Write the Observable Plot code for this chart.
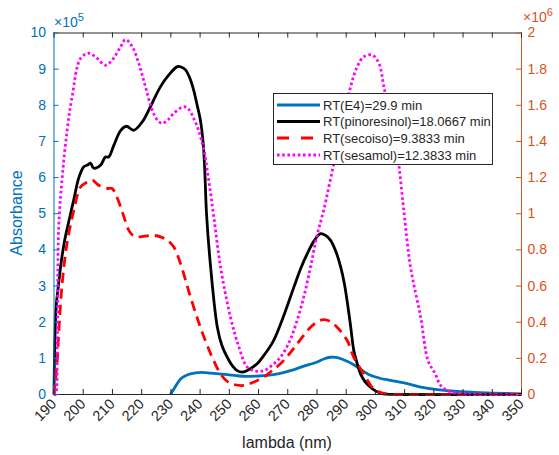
<!DOCTYPE html>
<html>
<head>
<meta charset="utf-8">
<script src="https://cdn.jsdelivr.net/npm/d3@7"></script>
<script src="https://cdn.jsdelivr.net/npm/@observablehq/plot@0.6"></script>
<style>
  html, body { margin: 0; padding: 0; background: #fff; }
  #chart { width: 559px; height: 455px; }
</style>
</head>
<body>
<div id="chart"></div>
<script>
// ---- data (left axis: x10^5, right axis: x10^6) ----
const xTicks = [190,200,210,220,230,240,250,260,270,280,290,300,310,320,330,340,350];
const yTicksLeft = [0,1,2,3,4,5,6,7,8,9,10];
const yTicksRight = [0,0.2,0.4,0.6,0.8,1,1.2,1.4,1.6,1.8,2];

const seriesNames = ["RT(E4)=29.9 min","RT(pinoresinol)=18.0667 min","RT(secoiso)=9.3833 min","RT(sesamol)=12.3833 min"];

// E4 (left axis, x10^5)
const e4Lambda = [229.9,231,232,233.3,235,236.7,238.5,240.5,243.6,246.5,249.3,252.5,256.1,259.5,263,267,270.9,275,280.1,282.5,284.6,287,290.3,292,293.8,296,298.3,301.5,305.2,310.9,316,322,327,333.7,340,350];
const e4Abs    = [0,0.15,0.28,0.43,0.52,0.57,0.6,0.61,0.59,0.57,0.55,0.52,0.5,0.51,0.53,0.58,0.66,0.77,0.9,0.99,1.03,1.02,0.92,0.85,0.76,0.64,0.53,0.45,0.39,0.3,0.2,0.13,0.09,0.06,0.04,0.02];

// pinoresinol (left axis, x10^5)
const pinoLambda = [190,190.3,190.8,191.5,192.2,193.5,195.1,196.8,198.5,200.2,201.5,202.5,203.6,205.9,207.6,208.7,210.5,212.8,214.8,217.3,220.2,223,226.4,229.3,232.2,233.5,235,236.5,237.8,239,240.1,241,241.6,242.2,243.6,245.9,247.5,249.3,251,252.7,254.4,256.5,259.5,262,265.2,268.5,272.1,274.5,276.7,279,281.2,283,284.6,286.5,288.1,289.3,290.3,291.5,292.6,293.8,294.9,296.5,298.3,300,301.7,304,310,350];
const pinoAbs    = [0,1.5,2.5,3.0,3.5,4.2,4.8,5.4,6.0,6.3,6.35,6.4,6.26,6.34,6.57,6.57,6.9,7.3,7.42,7.31,7.54,7.96,8.51,8.84,9.07,9.06,8.98,8.75,8.42,8.0,7.59,7.0,6.2,5.0,3.53,1.86,1.35,1.03,0.8,0.66,0.62,0.68,0.85,1.1,1.5,2.15,2.97,3.5,3.9,4.25,4.45,4.4,4.27,3.95,3.53,3.1,2.6,1.9,1.22,0.85,0.57,0.35,0.2,0.1,0.04,0.01,0,0];

// secoiso (left axis, x10^5)
const secoLambda = [190,191.1,191.6,192.8,194.5,196.8,199.1,201.4,203.1,205.3,208.2,209.9,211.3,212.8,214.2,215.6,217,218.5,221,224.2,226.5,228.7,231,233.3,236.7,240.1,243.6,247,249,251.5,254.9,258,261.8,264.5,267.5,270.5,273.2,277.8,280,282.3,284.5,286.9,290.3,292.6,296,299.4,303.4,310,350];
const secoAbs    = [0,0.94,1.68,3.07,4.2,5.1,5.74,5.88,5.93,5.79,5.7,5.7,5.5,5.19,4.85,4.54,4.4,4.36,4.38,4.4,4.36,4.27,4.08,3.62,2.7,1.86,1.13,0.57,0.38,0.28,0.25,0.33,0.48,0.65,0.85,1.12,1.4,1.86,2.0,2.07,2.02,1.86,1.5,1.03,0.57,0.16,0.02,0,0];

// sesamol (right axis, x10^6)
const sesaLambda = [190,190.5,191.1,191.6,192.8,194.5,196.2,199.1,201.9,204.2,207.6,209.9,212.8,214.5,216.8,219,221.3,223.6,225.3,227,229,231,234.4,236,237.8,239.5,241.3,243,244.7,247,250.4,253.3,256.1,259,261.8,264.5,267.5,270.5,273.2,275.5,277.8,280,282.3,285.8,289.2,291.5,293.8,296,298.9,301.2,302.9,305.2,307.5,309.7,312,315.5,318,320.5,322.3,325,329,335,350];
const sesaAbs    = [0,0,0.26,0.92,1.2,1.462,1.648,1.86,1.888,1.868,1.822,1.85,1.924,1.964,1.924,1.832,1.702,1.574,1.52,1.5,1.52,1.556,1.592,1.58,1.528,1.46,1.352,1.18,0.982,0.706,0.428,0.262,0.152,0.13,0.132,0.16,0.206,0.29,0.41,0.54,0.706,0.88,1.02,1.278,1.518,1.702,1.814,1.868,1.878,1.832,1.702,1.518,1.334,1.02,0.706,0.428,0.188,0.114,0.05,0.02,0.006,0,0];

// ---- styling ----
const BLUE = "#0072BD", ORANGE = "#D95319", DARK = "#262626";
const FONT = "'Liberation Sans', Arial, Helvetica, sans-serif";
const RIGHT_TO_LEFT = 5; // 2 (x10^6) maps to 10 (x10^5)

const zip = (xs, ys, k = 1) => xs.map((x, i) => ({x, y: ys[i] * k}));
const e4 = zip(e4Lambda, e4Abs);
const pino = zip(pinoLambda, pinoAbs);
const seco = zip(secoLambda, secoAbs);
const sesa = zip(sesaLambda, sesaAbs, RIGHT_TO_LEFT);

const fmtRight = d => {
  const v = Math.round(d / RIGHT_TO_LEFT * 10) / 10;
  return Number.isInteger(v) ? String(v) : v.toFixed(1);
};

const W = 559, H = 455;
const lineOpts = {x: "x", y: "y", strokeWidth: 2.8, strokeLinecap: "butt", strokeLinejoin: "round", curve: "catmull-rom"};
const plot = Plot.plot({
  width: W, height: H,
  marginLeft: 53.5, marginRight: 38, marginTop: 32.5, marginBottom: 61,
  style: {fontFamily: FONT, fontSize: "14px", background: "#fff", overflow: "visible"},
  x: {domain: [190, 350]},
  y: {domain: [0, 10]},
  marks: [
    // curves
    Plot.line(e4, {...lineOpts, stroke: BLUE}),
    Plot.line(pino, {...lineOpts, stroke: "#000"}),
    Plot.line(seco, {...lineOpts, stroke: "#FF0000", strokeDasharray: "10,6"}),
    Plot.line(sesa, {...lineOpts, stroke: "#FF00FF", strokeDasharray: "2.6,2.6"}),
    // box
    Plot.ruleY([0], {stroke: DARK, strokeWidth: 1}),
    Plot.ruleY([10], {stroke: DARK, strokeWidth: 1}),
    Plot.ruleX([190], {stroke: BLUE, strokeWidth: 1}),
    Plot.ruleX([350], {stroke: ORANGE, strokeWidth: 1}),
    // inward ticks
    Plot.ruleX(xTicks, {x: d => d, y1: 0, y2: 0, insetBottom: 5, stroke: DARK}),
    Plot.ruleX(xTicks, {x: d => d, y1: 10, y2: 10, insetTop: 5, stroke: DARK}),
    Plot.ruleY(yTicksLeft, {y: d => d, x1: 190, x2: 190, insetLeft: 5, stroke: BLUE}),
    Plot.ruleY(yTicksRight.map(v => v * RIGHT_TO_LEFT), {y: d => d, x1: 350, x2: 350, insetRight: 5, stroke: ORANGE}),
    // tick labels
    Plot.axisX({ticks: xTicks, tickSize: 0, tickPadding: 7, tickRotate: -45, fill: DARK, fontSize: 14.5, label: null, tickFormat: d => String(d)}),
    Plot.axisY({ticks: yTicksLeft, tickSize: 0, tickPadding: 8, fill: BLUE, fontSize: 14, label: null, tickFormat: d => String(d)}),
    Plot.axisY({anchor: "right", ticks: yTicksRight.map(v => v * RIGHT_TO_LEFT), tickSize: 0, tickPadding: 6, fill: ORANGE, fontSize: 14, label: null, tickFormat: fmtRight})
  ]
});
document.getElementById("chart").appendChild(plot);

// ---- annotations: exponents, labels, legend ----
const svg = d3.select(plot);

function expo(x, y, color, exp) {
  const t = svg.append("text").attr("x", x).attr("y", y).attr("fill", color)
    .attr("text-anchor", "start").attr("font-family", FONT).attr("font-size", 14);
  t.append("tspan").text("\u00D710");
  t.append("tspan").attr("font-size", 11).attr("dy", -6).text(exp);
}
expo(54, 27, BLUE, "5");
expo(523, 22, ORANGE, "6");

svg.append("text").attr("x", 287).attr("y", 448).attr("text-anchor", "middle")
  .attr("fill", DARK).attr("font-family", FONT).attr("font-size", 16).text("lambda (nm)");

svg.append("text").attr("transform", "translate(22,213) rotate(-90)").attr("text-anchor", "middle")
  .attr("fill", BLUE).attr("font-family", FONT).attr("font-size", 16).text("Absorbance");

const lg = svg.append("g");
lg.append("rect").attr("x", 273.5).attr("y", 93.5).attr("width", 219).attr("height", 71)
  .attr("fill", "#fff").attr("stroke", DARK).attr("stroke-width", 1);
const legendStyles = [
  {stroke: BLUE, dash: null},
  {stroke: "#000", dash: null},
  {stroke: "#FF0000", dash: "12,12"},
  {stroke: "#FF00FF", dash: "2.6,2.6"}
];
const rowsY = [105, 121.5, 138, 155];
seriesNames.forEach((name, i) => {
  const ln = lg.append("line").attr("x1", 277).attr("x2", 320).attr("y1", rowsY[i]).attr("y2", rowsY[i])
    .attr("stroke", legendStyles[i].stroke).attr("stroke-width", 2.8).attr("stroke-linecap", "butt");
  if (legendStyles[i].dash) ln.attr("stroke-dasharray", legendStyles[i].dash);
  lg.append("text").attr("x", 323).attr("y", rowsY[i] + 4.7).attr("fill", DARK).attr("text-anchor", "start")
    .attr("font-family", FONT).attr("font-size", 13).text(name);
});
</script>
</body>
</html>
